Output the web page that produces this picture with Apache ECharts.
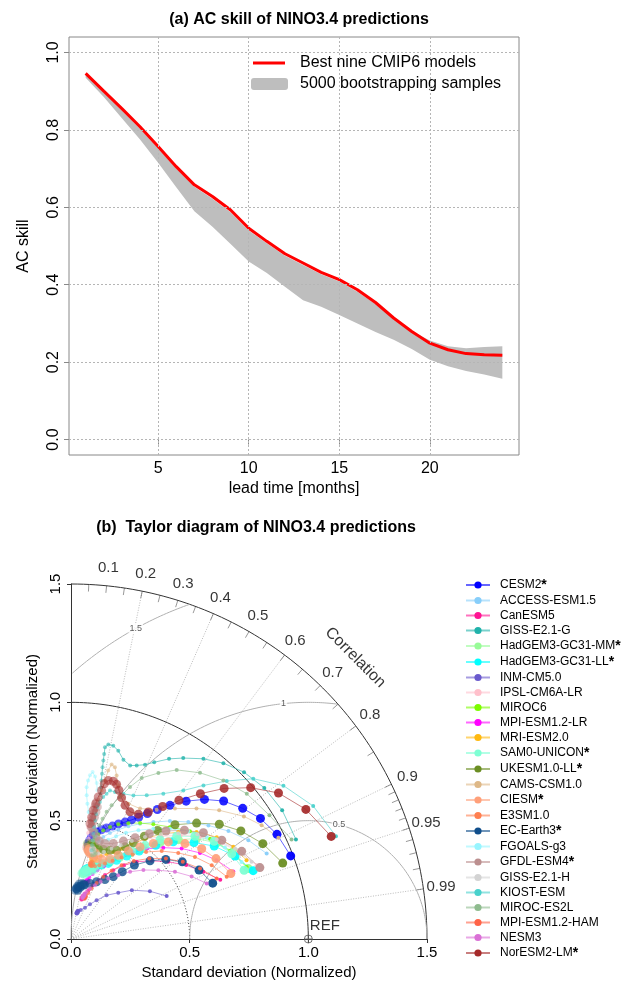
<!DOCTYPE html>
<html lang="en">
<head>
<meta charset="UTF-8" />
<title>NINO3.4 predictions</title>
<style>
  html, body { margin: 0; padding: 0; background: #fff; }
  #chart { width: 641px; height: 983px; }
</style>
</head>
<body>
<div id="chart"></div>
<script src="https://cdn.jsdelivr.net/npm/echarts@6/dist/echarts.min.js"></script>
<script>
// ---- panel (a): AC skill ----
const leadMonths = [1,2,3,4,5,6,7,8,9,10,11,12,13,14,15,16,17,18,19,20,21,22,23,24];
const acBest = [0.946,0.900,0.855,0.808,0.757,0.705,0.658,0.628,0.593,0.546,0.512,0.480,0.456,0.432,0.413,0.387,0.354,0.314,0.279,0.249,0.232,0.222,0.219,0.218];
const bandUpper = [0.942,0.895,0.850,0.803,0.752,0.700,0.653,0.622,0.587,0.540,0.507,0.475,0.451,0.427,0.408,0.382,0.350,0.312,0.280,0.256,0.241,0.236,0.239,0.241];
const bandLower = [0.935,0.885,0.830,0.775,0.715,0.652,0.590,0.550,0.505,0.460,0.430,0.395,0.360,0.343,0.322,0.300,0.278,0.258,0.234,0.206,0.189,0.177,0.168,0.157];
const leadTicks = [5, 10, 15, 20];
const skillTicks = [0, 0.2, 0.4, 0.6, 0.8, 1.0];

// ---- panel (b): Taylor diagram ----
const modelNames = ['CESM2','ACCESS-ESM1.5','CanESM5','GISS-E2.1-G','HadGEM3-GC31-MM','HadGEM3-GC31-LL','INM-CM5.0','IPSL-CM6A-LR','MIROC6','MPI-ESM1.2-LR','MRI-ESM2.0','SAM0-UNICON','UKESM1.0-LL','CAMS-CSM1.0','CIESM','E3SM1.0','EC-Earth3','FGOALS-g3','GFDL-ESM4','GISS-E2.1-H','KIOST-ESM','MIROC-ES2L','MPI-ESM1.2-HAM','NESM3','NorESM2-LM'];
const modelColors = ['#0000FF','#87CEFA','#FF1493','#20B2AA','#98FB98','#00FFFF','#6A5ACD','#FFC0CB','#7CFC00','#FF00FF','#FFB90F','#7FFFD4','#6B8E23','#DEB887','#FFA07A','#FF7F50','#104E8B','#98F5FF','#BC8F8F','#D3D3D3','#48D1CC','#8FBC8F','#FF6347','#DA70D6','#A52A2A'];
const bestNine = ['CESM2','HadGEM3-GC31-MM','HadGEM3-GC31-LL','SAM0-UNICON','UKESM1.0-LL','CIESM','EC-Earth3','GFDL-ESM4','NorESM2-LM'];

// normalized std and correlation, lead 1..24
const sdCESM2 = [0.990,0.974,0.947,0.910,0.868,0.815,0.758,0.702,0.657,0.620,0.588,0.564,0.544,0.526,0.508,0.492,0.479,0.465,0.450,0.436,0.423,0.411,0.400,0.390];
const rCESM2 = [0.935,0.891,0.843,0.795,0.741,0.690,0.640,0.594,0.554,0.519,0.485,0.452,0.419,0.381,0.344,0.305,0.267,0.232,0.209,0.195,0.184,0.180,0.180,0.185];
const sdACCESS = [0.900,0.856,0.805,0.752,0.699,0.650,0.604,0.567,0.534,0.503,0.477,0.452,0.430,0.408,0.395,0.388,0.392,0.400,0.410,0.418,0.420,0.414,0.405,0.398];
const rACCESS = [0.916,0.873,0.824,0.770,0.707,0.641,0.575,0.513,0.453,0.396,0.344,0.301,0.268,0.248,0.235,0.228,0.245,0.262,0.270,0.258,0.240,0.228,0.222,0.218];
const sdCanESM5 = [0.677,0.626,0.577,0.524,0.474,0.428,0.383,0.341,0.306,0.274,0.245,0.219,0.201,0.188,0.180,0.176,0.178,0.185,0.190,0.188,0.182,0.176,0.172,0.172];
const rCanESM5 = [0.929,0.891,0.841,0.783,0.717,0.647,0.582,0.522,0.467,0.420,0.371,0.333,0.294,0.261,0.250,0.262,0.285,0.300,0.292,0.270,0.255,0.248,0.252,0.262];
const sdGISSG = [1.037,1.043,1.035,1.014,0.982,0.944,0.899,0.866,0.825,0.800,0.784,0.774,0.789,0.820,0.836,0.837,0.823,0.794,0.766,0.738,0.710,0.682,0.654,0.626];
const rGISSG = [0.914,0.853,0.787,0.719,0.654,0.591,0.526,0.477,0.425,0.390,0.353,0.322,0.280,0.243,0.213,0.188,0.174,0.176,0.178,0.180,0.184,0.188,0.193,0.198];
const sdHadMM = [0.804,0.777,0.736,0.678,0.617,0.553,0.492,0.441,0.400,0.365,0.341,0.321,0.307,0.295,0.288,0.283,0.290,0.298,0.304,0.309,0.306,0.300,0.293,0.287];
const rHadMM = [0.929,0.880,0.834,0.780,0.733,0.678,0.620,0.565,0.510,0.449,0.378,0.315,0.270,0.224,0.195,0.180,0.215,0.250,0.275,0.290,0.262,0.232,0.205,0.190];
const sdHadLL = [0.820,0.775,0.720,0.659,0.595,0.533,0.470,0.422,0.384,0.356,0.338,0.323,0.314,0.307,0.301,0.294,0.292,0.301,0.307,0.312,0.313,0.308,0.301,0.294];
const rHadLL = [0.936,0.892,0.838,0.786,0.724,0.670,0.611,0.557,0.500,0.441,0.382,0.326,0.277,0.238,0.209,0.201,0.226,0.256,0.283,0.301,0.265,0.234,0.209,0.196];
const sdINM = [0.442,0.389,0.329,0.279,0.238,0.196,0.167,0.145,0.129,0.123,0.120,0.116,0.112,0.110,0.112,0.116,0.120,0.122,0.120,0.116,0.112,0.110,0.112,0.116];
const rINM = [0.912,0.855,0.779,0.714,0.630,0.551,0.479,0.407,0.318,0.252,0.230,0.215,0.205,0.215,0.230,0.245,0.250,0.240,0.228,0.218,0.212,0.220,0.232,0.240];
const sdIPSL = [0.842,0.797,0.747,0.694,0.637,0.578,0.523,0.472,0.432,0.399,0.377,0.364,0.362,0.370,0.386,0.407,0.430,0.454,0.478,0.500,0.521,0.494,0.466,0.438];
const rIPSL = [0.929,0.885,0.836,0.784,0.725,0.661,0.596,0.532,0.472,0.411,0.353,0.305,0.260,0.224,0.200,0.182,0.170,0.158,0.150,0.149,0.148,0.162,0.172,0.180];
const sdMIROC6 = [0.800,0.766,0.723,0.677,0.631,0.596,0.570,0.546,0.524,0.501,0.479,0.457,0.436,0.416,0.405,0.398,0.395,0.400,0.408,0.415,0.418,0.412,0.404,0.398];
const rMIROC6 = [0.925,0.874,0.810,0.740,0.661,0.582,0.511,0.443,0.380,0.328,0.284,0.252,0.232,0.219,0.215,0.225,0.240,0.255,0.262,0.250,0.235,0.222,0.214,0.210];
const sdMPILR = [0.741,0.698,0.654,0.603,0.548,0.497,0.450,0.405,0.368,0.338,0.311,0.289,0.271,0.255,0.248,0.244,0.247,0.254,0.260,0.262,0.258,0.252,0.248,0.246];
const rMPILR = [0.923,0.879,0.831,0.773,0.710,0.642,0.578,0.516,0.465,0.411,0.357,0.315,0.284,0.259,0.250,0.262,0.280,0.290,0.282,0.266,0.250,0.242,0.240,0.245];
const sdMRI = [0.811,0.787,0.750,0.696,0.639,0.580,0.526,0.477,0.437,0.409,0.388,0.372,0.360,0.352,0.347,0.342,0.340,0.346,0.354,0.359,0.362,0.364,0.357,0.351];
const rMRI = [0.912,0.869,0.819,0.760,0.707,0.647,0.593,0.536,0.487,0.436,0.387,0.337,0.293,0.259,0.245,0.263,0.285,0.301,0.311,0.293,0.271,0.253,0.246,0.245];
const sdSAM0 = [0.785,0.767,0.731,0.679,0.622,0.563,0.504,0.452,0.406,0.371,0.344,0.324,0.309,0.298,0.289,0.281,0.279,0.287,0.295,0.301,0.311,0.312,0.305,0.297];
const rSAM0 = [0.929,0.883,0.825,0.769,0.716,0.666,0.619,0.566,0.507,0.442,0.375,0.312,0.259,0.211,0.180,0.164,0.197,0.230,0.261,0.292,0.322,0.282,0.243,0.202];
const sdUKESM = [0.948,0.903,0.849,0.791,0.721,0.652,0.586,0.533,0.484,0.451,0.421,0.409,0.402,0.399,0.402,0.412,0.394,0.385,0.377,0.382,0.389,0.395,0.402,0.409];
const rUKESM = [0.941,0.895,0.843,0.790,0.734,0.672,0.623,0.580,0.543,0.505,0.456,0.401,0.338,0.288,0.251,0.211,0.203,0.190,0.205,0.228,0.242,0.210,0.184,0.169];
const sdCAMS = [0.973,0.936,0.894,0.828,0.764,0.704,0.655,0.623,0.621,0.643,0.679,0.717,0.749,0.757,0.729,0.685,0.641,0.597,0.554,0.510,0.467,0.425,0.390,0.362];
const rCAMS = [0.898,0.858,0.815,0.754,0.692,0.622,0.551,0.467,0.390,0.331,0.293,0.268,0.247,0.226,0.215,0.209,0.201,0.193,0.190,0.184,0.186,0.195,0.205,0.213];
const sdCIESM = [0.728,0.699,0.670,0.627,0.580,0.532,0.486,0.444,0.406,0.377,0.359,0.358,0.362,0.370,0.379,0.389,0.385,0.380,0.376,0.367,0.370,0.377,0.384,0.392];
const rCIESM = [0.925,0.874,0.822,0.766,0.707,0.652,0.599,0.545,0.490,0.435,0.371,0.310,0.260,0.216,0.193,0.198,0.226,0.255,0.279,0.256,0.224,0.197,0.179,0.168];
const sdE3SM = [0.707,0.670,0.627,0.580,0.533,0.485,0.442,0.405,0.374,0.350,0.334,0.324,0.320,0.322,0.328,0.335,0.338,0.334,0.328,0.322,0.320,0.324,0.330,0.334];
const rE3SM = [0.928,0.885,0.833,0.779,0.717,0.652,0.588,0.527,0.470,0.410,0.357,0.312,0.272,0.250,0.240,0.245,0.262,0.280,0.288,0.278,0.262,0.250,0.245,0.250];
const sdECEarth = [0.642,0.613,0.571,0.522,0.469,0.411,0.357,0.318,0.289,0.265,0.248,0.235,0.221,0.208,0.214,0.223,0.227,0.233,0.238,0.239,0.235,0.225,0.214,0.207];
const rECEarth = [0.930,0.880,0.821,0.765,0.710,0.650,0.605,0.560,0.495,0.408,0.323,0.238,0.172,0.135,0.112,0.139,0.180,0.210,0.231,0.193,0.149,0.120,0.098,0.087];
const sdFGOALS = [0.789,0.755,0.716,0.672,0.625,0.581,0.540,0.505,0.474,0.448,0.430,0.444,0.475,0.508,0.542,0.576,0.611,0.645,0.674,0.696,0.711,0.694,0.668,0.638];
const rFGOALS = [0.911,0.859,0.799,0.735,0.667,0.597,0.526,0.459,0.401,0.350,0.300,0.243,0.198,0.163,0.137,0.120,0.108,0.102,0.107,0.115,0.128,0.146,0.162,0.174];
const sdGFDL = [0.851,0.809,0.760,0.716,0.663,0.607,0.554,0.506,0.469,0.441,0.428,0.431,0.444,0.462,0.481,0.502,0.524,0.547,0.569,0.589,0.567,0.537,0.509,0.481];
const rGFDL = [0.935,0.889,0.836,0.779,0.721,0.659,0.596,0.534,0.471,0.404,0.334,0.276,0.237,0.204,0.181,0.182,0.188,0.192,0.195,0.183,0.178,0.175,0.173,0.178];
const sdGISSH = [0.828,0.790,0.744,0.692,0.636,0.582,0.532,0.487,0.448,0.418,0.393,0.379,0.374,0.376,0.382,0.390,0.396,0.398,0.394,0.388,0.382,0.380,0.383,0.388];
const rGISSH = [0.919,0.875,0.825,0.769,0.711,0.650,0.586,0.526,0.467,0.409,0.354,0.303,0.259,0.232,0.218,0.215,0.225,0.240,0.252,0.256,0.250,0.238,0.228,0.222];
const sdKIOST = [1.198,1.165,1.105,1.024,0.936,0.856,0.786,0.727,0.686,0.661,0.652,0.648,0.649,0.632,0.615,0.592,0.569,0.539,0.511,0.483,0.455,0.427,0.406,0.385];
const rKIOST = [0.932,0.876,0.810,0.750,0.701,0.652,0.602,0.535,0.465,0.398,0.339,0.286,0.253,0.237,0.221,0.206,0.195,0.195,0.198,0.201,0.207,0.213,0.217,0.226];
const sdMIROCES = [1.020,0.986,0.962,0.928,0.888,0.842,0.792,0.743,0.689,0.634,0.590,0.558,0.525,0.495,0.469,0.445,0.425,0.406,0.392,0.381,0.376,0.369,0.364,0.365];
const rMIROCES = [0.911,0.848,0.770,0.692,0.612,0.529,0.465,0.401,0.361,0.325,0.290,0.269,0.253,0.240,0.230,0.225,0.221,0.224,0.240,0.262,0.279,0.271,0.250,0.236];
const sdMPIHAM = [0.665,0.620,0.573,0.525,0.474,0.423,0.378,0.335,0.296,0.260,0.230,0.208,0.192,0.185,0.180,0.182,0.188,0.192,0.190,0.185,0.180,0.178,0.182,0.186];
const rMPIHAM = [0.923,0.877,0.822,0.762,0.696,0.626,0.564,0.510,0.459,0.415,0.378,0.351,0.328,0.315,0.300,0.318,0.332,0.320,0.305,0.298,0.305,0.318,0.325,0.315];
const sdNESM3 = [0.618,0.573,0.522,0.469,0.422,0.378,0.335,0.300,0.272,0.249,0.228,0.210,0.193,0.185,0.180,0.182,0.188,0.195,0.200,0.198,0.192,0.186,0.182,0.180];
const rNESM3 = [0.925,0.887,0.839,0.785,0.723,0.659,0.594,0.523,0.460,0.406,0.351,0.314,0.285,0.270,0.262,0.275,0.290,0.300,0.292,0.278,0.266,0.260,0.262,0.270];
const sdNorESM = [1.179,1.131,1.070,0.991,0.906,0.821,0.742,0.680,0.628,0.599,0.592,0.609,0.634,0.660,0.681,0.690,0.688,0.671,0.641,0.611,0.581,0.552,0.522,0.494];
const rNorESM = [0.930,0.875,0.817,0.764,0.712,0.664,0.613,0.568,0.519,0.474,0.420,0.374,0.336,0.306,0.282,0.258,0.228,0.209,0.201,0.188,0.179,0.170,0.167,0.162];

const modelStd = [sdCESM2,sdACCESS,sdCanESM5,sdGISSG,sdHadMM,sdHadLL,sdINM,sdIPSL,sdMIROC6,sdMPILR,sdMRI,sdSAM0,sdUKESM,sdCAMS,sdCIESM,sdE3SM,sdECEarth,sdFGOALS,sdGFDL,sdGISSH,sdKIOST,sdMIROCES,sdMPIHAM,sdNESM3,sdNorESM];
const modelCor = [rCESM2,rACCESS,rCanESM5,rGISSG,rHadMM,rHadLL,rINM,rIPSL,rMIROC6,rMPILR,rMRI,rSAM0,rUKESM,rCAMS,rCIESM,rE3SM,rECEarth,rFGOALS,rGFDL,rGISSH,rKIOST,rMIROCES,rMPIHAM,rNESM3,rNorESM];

const stdArcs = [0.5, 1.0, 1.5];
const corrRays = [0.2, 0.4, 0.6, 0.8, 0.9, 0.95, 0.99];
const corrLabels = [0.1, 0.2, 0.3, 0.4, 0.5, 0.6, 0.7, 0.8, 0.9, 0.95, 0.99];
const corrTicks = [0.05,0.1,0.15,0.2,0.25,0.3,0.35,0.4,0.45,0.5,0.55,0.6,0.65,0.7,0.75,0.8,0.85,0.9,0.91,0.92,0.93,0.94,0.95,0.96,0.97,0.98,0.99];
const rmsLevels = [0.5, 1.0, 1.5];
const rmsLabelText = ['0.5', '1', '1.5'];
const rmsLabelAngle = [75, 96, 119];

// polar helpers for the Taylor diagram
const toXY = (sd, r) => [sd * r, sd * Math.sqrt(1 - r * r)];
const deg = Math.PI / 180;

const chart = echarts.init(document.getElementById('chart'));
const series = [];

// panel (a): grid lines, band, red line
series.push({
  name: 'gridA', type: 'line', xAxisIndex: 0, yAxisIndex: 0,
  data: [[1, acBest[0]]], symbol: 'none', lineStyle: { opacity: 0 }, silent: true, z: 1,
  markLine: {
    silent: true, symbol: 'none', label: { show: false }, animation: false,
    lineStyle: { color: '#b5b5b5', type: [2, 2], width: 1 },
    data: leadTicks.map(v => ({ xAxis: v })).concat(skillTicks.map(v => ({ yAxis: v })))
  }
});
series.push({
  name: '5000 bootstrapping samples', type: 'custom', xAxisIndex: 0, yAxisIndex: 0, z: 2,
  itemStyle: { color: '#bebebe' },
  data: leadMonths.map((m, i) => [m, bandLower[i], bandUpper[i]]),
  encode: { x: 0, y: [1, 2] },
  renderItem: (params, api) => {
    if (params.dataIndex !== 0) return null;
    const top = leadMonths.map((m, i) => api.coord([m, bandUpper[i]]));
    const bot = leadMonths.map((m, i) => api.coord([m, bandLower[i]])).reverse();
    return { type: 'polygon', shape: { points: top.concat(bot) }, style: { fill: '#bebebe' } };
  }
});
series.push({
  name: 'Best nine CMIP6 models', type: 'line', xAxisIndex: 0, yAxisIndex: 0,
  data: leadMonths.map((m, i) => [m, acBest[i]]),
  symbol: 'none', lineStyle: { color: '#ff0000', width: 3 }, itemStyle: { color: '#ff0000' }, z: 3
});

// panel (b) frame
const tb = { xAxisIndex: 1, yAxisIndex: 1, silent: true, clip: false };
stdArcs.forEach(s => {
  const pts = [];
  for (let a = 0; a <= 90; a += 1) pts.push([s * Math.cos(a * deg), s * Math.sin(a * deg)]);
  series.push(Object.assign({
    type: 'line', data: pts, symbol: 'none', z: 1,
    lineStyle: s === 0.5 ? { color: '#333', width: 1, type: [1, 2] } : { color: '#333', width: 1 }
  }, tb));
});
series.push(Object.assign({
  type: 'lines', coordinateSystem: 'cartesian2d', z: 1,
  lineStyle: { color: '#555', width: 0.8, type: [1, 1.5] },
  data: corrRays.map(r => ({ coords: [[0, 0], toXY(1.5, r)] }))
}, tb));
series.push(Object.assign({
  type: 'lines', coordinateSystem: 'cartesian2d', z: 1,
  lineStyle: { color: '#333', width: 1 },
  data: corrTicks.map(r => ({ coords: [toXY(1.5, r), toXY(1.47, r)] }))
}, tb));
rmsLevels.forEach(L => {
  const pts = [];
  for (let a = 0; a <= 180; a += 0.5) {
    const x = 1 + L * Math.cos(a * deg), y = L * Math.sin(a * deg);
    if (x >= 0 && x * x + y * y <= 2.2501) pts.push([x, y]);
  }
  series.push(Object.assign({
    type: 'line', data: pts, symbol: 'none', z: 1,
    lineStyle: { color: '#b0b0b0', width: 1 }
  }, tb));
});
series.push(Object.assign({
  type: 'scatter', symbolSize: 0, z: 2,
  data: rmsLevels.map((L, i) => [1 + L * Math.cos(rmsLabelAngle[i] * deg), L * Math.sin(rmsLabelAngle[i] * deg), rmsLabelText[i]]),
  label: { show: true, position: 'inside', formatter: p => p.value[2], fontSize: 9, color: '#333', backgroundColor: '#fff', padding: [0, 1] }
}, tb));
series.push(Object.assign({
  type: 'scatter', symbolSize: 0, z: 2,
  data: corrLabels.map(r => toXY(1.575, r).concat([String(r)])),
  label: { show: true, position: 'inside', formatter: p => p.value[2], fontSize: 15, color: '#000' }
}, tb));
series.push(Object.assign({
  type: 'scatter', symbolSize: 0, z: 2,
  data: [[1.688 * Math.cos(44.8 * deg), 1.688 * Math.sin(44.8 * deg), 'Correlation']],
  label: { show: true, position: 'inside', formatter: p => p.value[2], fontSize: 16, color: '#000', rotate: -45 }
}, tb));
series.push(Object.assign({
  type: 'scatter', z: 2, symbol: 'path://M10,0A10,10,0,1,1,10,20A10,10,0,1,1,10,0ZM10,0L10,20M0,10L20,10',
  symbolSize: 8, itemStyle: { color: 'rgba(0,0,0,0)', borderColor: '#555', borderWidth: 1 },
  data: [[1, 0, 'REF']],
  label: { show: true, position: [6, -16], formatter: p => p.value[2], fontSize: 15, color: '#000' }
}, tb));

// panel (b) models
modelNames.forEach((name, k) => {
  const big = bestNine.includes(name);
  const sd = modelStd[k], cor = modelCor[k];
  series.push({
    name: name, type: 'line', xAxisIndex: 1, yAxisIndex: 1, z: 3, clip: false,
    symbol: 'circle', symbolSize: big ? 9 : 4, showSymbol: true,
    color: modelColors[k],
    lineStyle: { width: 1, opacity: 0.6 },
    data: sd.map((s, i) => ({ value: toXY(s, cor[i]), itemStyle: { opacity: 0.95 - 0.55 * i / 23 } }))
  });
});

const option = {
  animation: false,
  textStyle: { fontFamily: 'Liberation Sans, Arial, sans-serif' },
  title: [
    { text: '(a) AC skill of NINO3.4 predictions', left: 294, top: 7, textAlign: 'center',
      textStyle: { fontSize: 16, fontWeight: 'bold', color: '#000' } },
    { text: '(b)  Taylor diagram of NINO3.4 predictions', left: 251, top: 515, textAlign: 'center',
      textStyle: { fontSize: 16, fontWeight: 'bold', color: '#000' } }
  ],
  legend: [
    { data: [{ name: 'Best nine CMIP6 models', icon: 'rect' }], left: 248, top: 49,
      itemWidth: 32, itemHeight: 3, selectedMode: false,
      textStyle: { fontSize: 16, lineHeight: 18, color: '#000', padding: [0, 0, 0, 10] } },
    { data: [{ name: '5000 bootstrapping samples', icon: 'roundRect', itemStyle: { color: '#bebebe' } }], left: 246, top: 70,
      itemWidth: 37, itemHeight: 12, selectedMode: false,
      textStyle: { fontSize: 16, lineHeight: 18, color: '#000', padding: [0, 0, 0, 7] } },
    { data: modelNames, orient: 'vertical', left: 460, top: 573, selectedMode: false,
      itemWidth: 24, itemHeight: 9, itemGap: 2,
      formatter: n => bestNine.includes(n) ? n + '{s|*}' : n,
      textStyle: { fontSize: 12, lineHeight: 13, color: '#000', padding: [0, 0, 0, 5],
        rich: { s: { fontSize: 14, fontWeight: 'bold', lineHeight: 13, color: '#000' } } } }
  ],
  grid: [
    { left: 69, top: 37, width: 450, height: 418, show: true, borderColor: '#888', borderWidth: 1, backgroundColor: 'transparent' },
    { left: 71, top: 584, width: 356, height: 355 }
  ],
  xAxis: [
    { type: 'value', gridIndex: 0, min: 0.08, max: 24.92,
      axisLine: { show: false }, splitLine: { show: false },
      axisTick: { show: true, customValues: leadTicks, length: 5, lineStyle: { color: '#888' } },
      axisLabel: { customValues: leadTicks, fontSize: 16, color: '#000', margin: 6 },
      name: 'lead time [months]', nameLocation: 'middle', nameGap: 26,
      nameTextStyle: { fontSize: 16, color: '#000' } },
    { type: 'value', gridIndex: 1, min: 0, max: 1.5, interval: 0.5,
      axisLine: { show: true, onZero: false, lineStyle: { color: '#333' } }, splitLine: { show: false },
      axisTick: { show: true, length: 4, lineStyle: { color: '#333' } },
      axisLabel: { fontSize: 15, color: '#000', margin: 6, formatter: v => v.toFixed(1) },
      name: 'Standard deviation (Normalized)', nameLocation: 'middle', nameGap: 26,
      nameTextStyle: { fontSize: 15, color: '#000' } }
  ],
  yAxis: [
    { type: 'value', gridIndex: 0, min: -0.04, max: 1.04,
      axisLine: { show: false }, splitLine: { show: false },
      axisTick: { show: true, customValues: skillTicks, length: 5, lineStyle: { color: '#888' } },
      axisLabel: { customValues: skillTicks, fontSize: 16, color: '#000', rotate: 90, margin: 7,
        formatter: v => v.toFixed(1) },
      name: 'AC skill', nameLocation: 'middle', nameGap: 37,
      nameTextStyle: { fontSize: 16, color: '#000' } },
    { type: 'value', gridIndex: 1, min: 0, max: 1.5, interval: 0.5,
      axisLine: { show: true, onZero: false, lineStyle: { color: '#333' } }, splitLine: { show: false },
      axisTick: { show: true, length: 4, lineStyle: { color: '#333' } },
      axisLabel: { fontSize: 15, color: '#000', rotate: 90, margin: 8, formatter: v => v.toFixed(1) },
      name: 'Standard deviation (Normalized)', nameLocation: 'middle', nameGap: 30,
      nameTextStyle: { fontSize: 15, color: '#000' } }
  ],
  series: series
};
chart.setOption(option);
</script>
</body>
</html>
